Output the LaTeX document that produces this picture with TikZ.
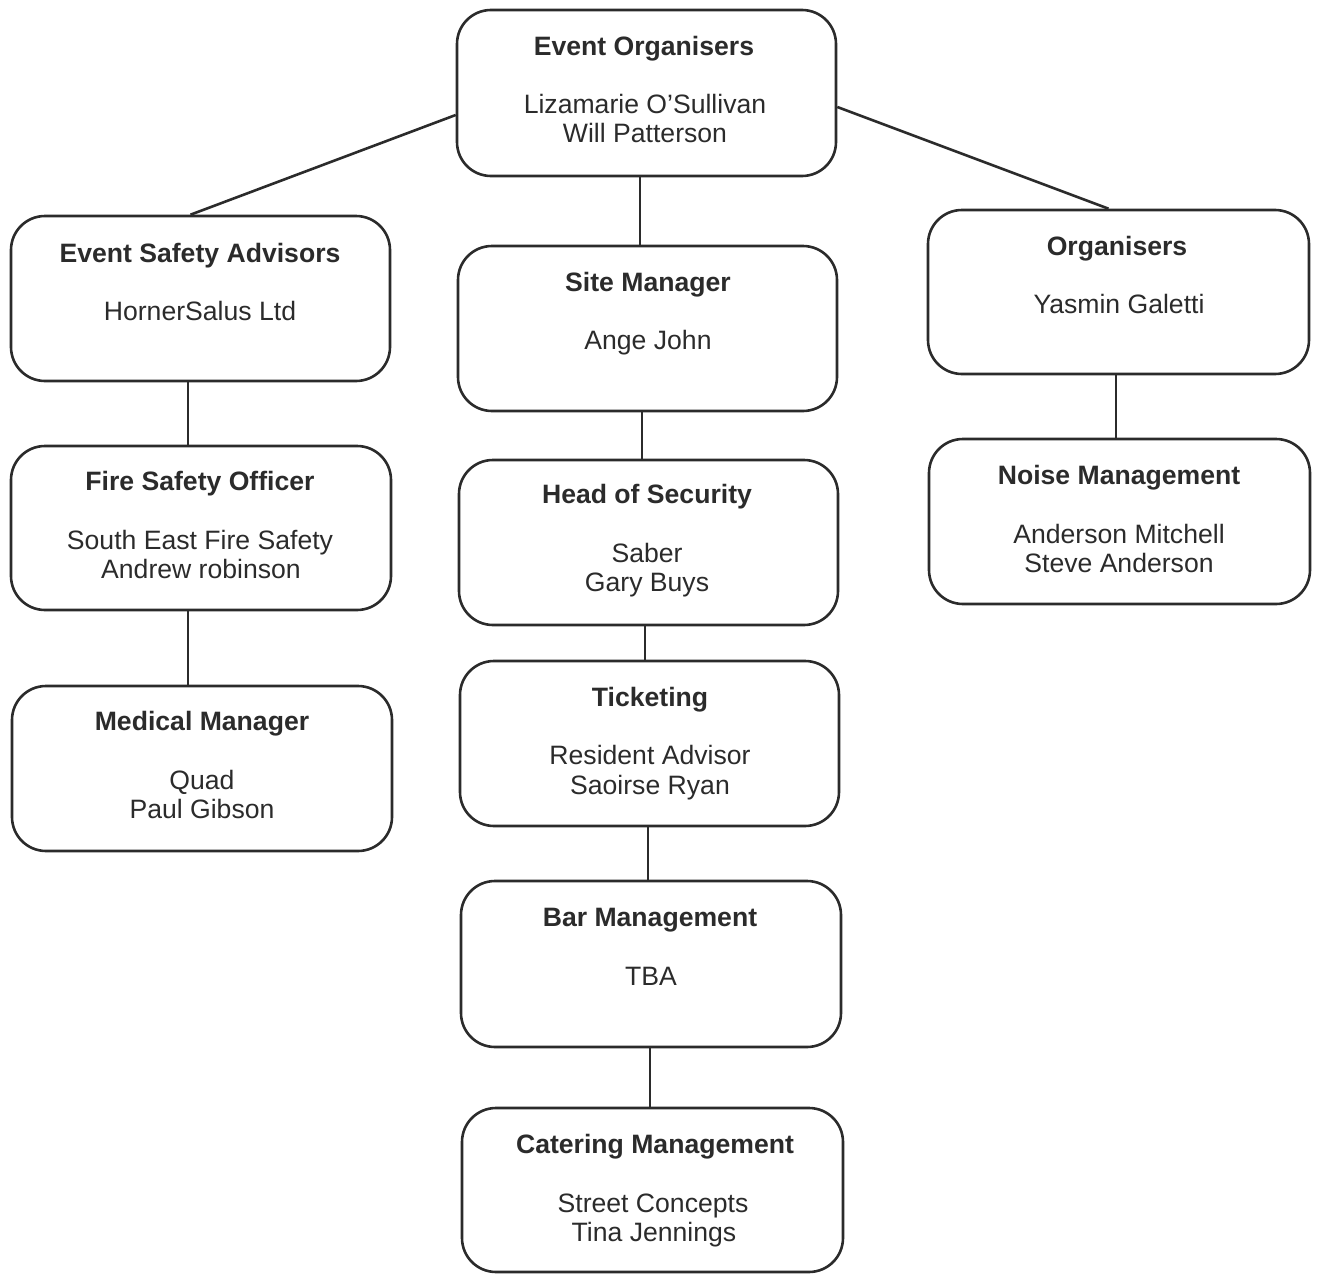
\documentclass[tikz,border=0pt]{standalone}
\usepackage{fontspec}
\setmainfont{Liberation Sans}
\usetikzlibrary{fit}
\definecolor{ink}{HTML}{2B2B2B}
\begin{document}
\begin{tikzpicture}[x=0.5pt,y=-0.5pt,
  box/.style={draw=ink, line width=1.3pt, rounded corners=17pt, inner sep=0pt},
  ttl/.style={anchor=base, inner sep=0pt, text=ink, font=\fontsize{13.3}{16}\selectfont\bfseries},
  txt/.style={anchor=base, inner sep=0pt, text=ink, font=\fontsize{13.3}{16}\selectfont},
  conn/.style={draw=ink, line width=1.3pt}]
\useasboundingbox (0,0) rectangle (1319,1274);
% boxes
\node[box, fit={(457,10) (836,176)}] (eo) {};
\node[box, fit={(11,216) (390,381)}] (esa) {};
\node[box, fit={(458,246) (837,411)}] (sm) {};
\node[box, fit={(928,210) (1309,374)}] (org) {};
\node[box, fit={(11,446) (391,610)}] (fso) {};
\node[box, fit={(459,460) (838,625)}] (hos) {};
\node[box, fit={(929,439) (1310,604)}] (nm) {};
\node[box, fit={(12,686) (392,851)}] (mm) {};
\node[box, fit={(460,661) (839,826)}] (tick) {};
\node[box, fit={(461,881) (841,1047)}] (bar) {};
\node[box, fit={(462,1108) (843,1272)}] (cat) {};
% texts
\node[ttl] (eo-t) at (644,55) {Event Organisers};
\node[txt] (eo-1) at (645,113) {Lizamarie O’Sullivan};
\node[txt] (eo-2) at (645,142) {Will Patterson};
\node[ttl] (esa-t) at (200,262) {Event Safety Advisors};
\node[txt] (esa-1) at (200,320) {HornerSalus Ltd};
\node[ttl] (sm-t) at (648,291) {Site Manager};
\node[txt] (sm-1) at (648,349) {Ange John};
\node[ttl] (org-t) at (1117,255) {Organisers};
\node[txt] (org-1) at (1119,313) {Yasmin Galetti};
\node[ttl] (fso-t) at (200,490) {Fire Safety Officer};
\node[txt] (fso-1) at (200,549) {South East Fire Safety};
\node[txt] (fso-2) at (201,578) {Andrew robinson};
\node[ttl] (hos-t) at (647,503) {Head of Security};
\node[txt] (hos-1) at (647,562) {Saber};
\node[txt] (hos-2) at (647,591) {Gary Buys};
\node[ttl] (nm-t) at (1119,484) {Noise Management};
\node[txt] (nm-1) at (1119,543) {Anderson Mitchell};
\node[txt] (nm-2) at (1119,572) {Steve Anderson};
\node[ttl] (mm-t) at (202,730) {Medical Manager};
\node[txt] (mm-1) at (202,789) {Quad};
\node[txt] (mm-2) at (202,818) {Paul Gibson};
\node[ttl] (tick-t) at (650,706) {Ticketing};
\node[txt] (tick-1) at (650,764) {Resident Advisor};
\node[txt] (tick-2) at (650,794) {Saoirse Ryan};
\node[ttl] (bar-t) at (650,926) {Bar Management};
\node[txt] (bar-1) at (651,985) {TBA};
\node[ttl] (cat-t) at (655,1153) {Catering Management};
\node[txt] (cat-1) at (653,1212) {Street Concepts};
\node[txt] (cat-2) at (654,1241) {Tina Jennings};
% connectors
\draw[conn] ([yshift=-11pt]eo.west) -- ([xshift=-5pt]esa.north);
\draw[conn] ([yshift=-7pt]eo.east) -- ([xshift=-5pt]org.north);
\draw[conn] ([xshift=-3.25pt]eo.south) -- ([xshift=-3.75pt]sm.north);
\draw[conn] ([xshift=-6.25pt]esa.south) -- ([xshift=-6.5pt]fso.north);
\draw[conn] ([xshift=-6.5pt]fso.south) -- ([xshift=-7pt]mm.north);
\draw[conn] ([xshift=-2.75pt]sm.south) -- ([xshift=-3.25pt]hos.north);
\draw[conn] ([xshift=-1.75pt]hos.south) -- ([xshift=-2.25pt]tick.north);
\draw[conn] ([xshift=-0.75pt]tick.south) -- ([xshift=-1.5pt]bar.north);
\draw[conn] ([xshift=-0.5pt]bar.south) -- ([xshift=-1.25pt]cat.north);
\draw[conn] ([xshift=-1.25pt]org.south) -- ([xshift=-1.75pt]nm.north);
\end{tikzpicture}
\end{document}
